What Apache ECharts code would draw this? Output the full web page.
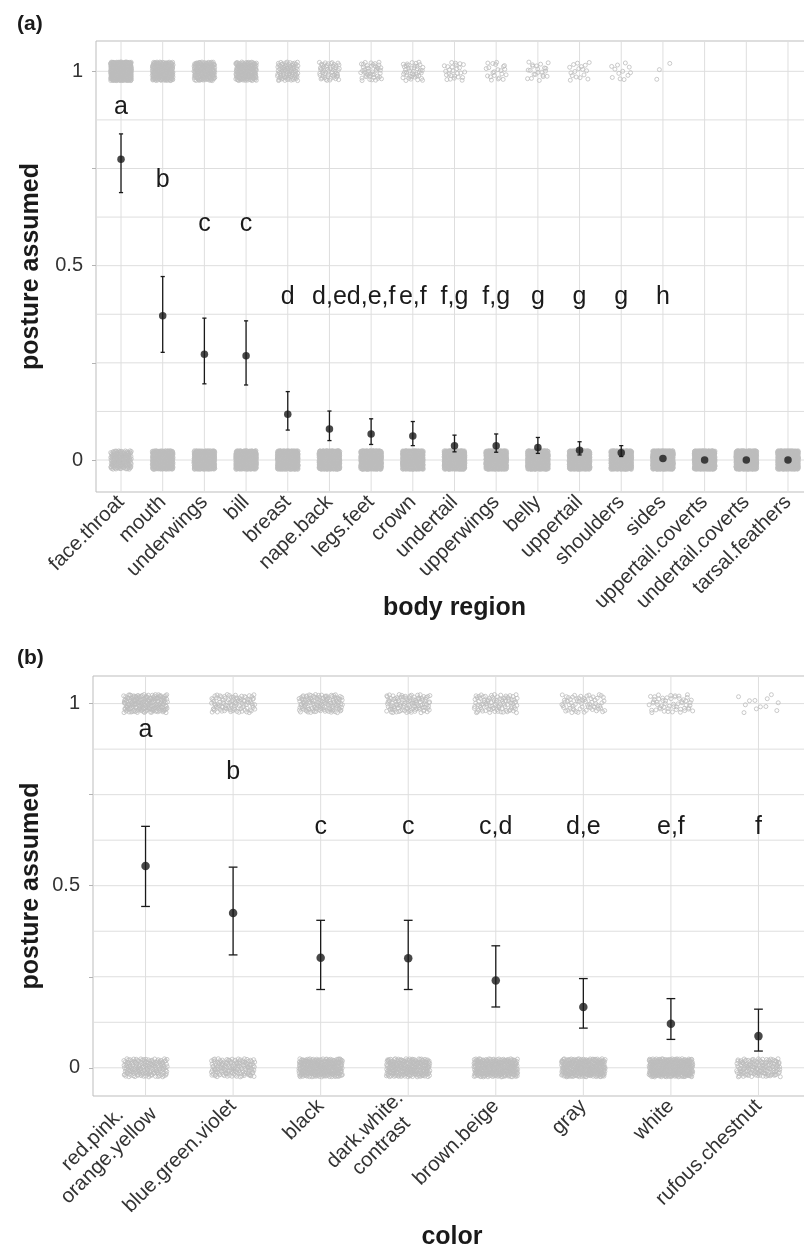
<!DOCTYPE html>
<html>
<head>
<meta charset="utf-8">
<script src="https://cdn.jsdelivr.net/npm/echarts@6/dist/echarts.min.js"></script>
<style>
html,body{margin:0;padding:0;background:#ffffff;}
#chart{width:804px;height:1245px;}
</style>
</head>
<body>
<div id="chart"></div>
<script>
// ---------- Panel (a): body region ----------
const regionNames = ['face.throat','mouth','underwings','bill','breast','nape.back','legs.feet','crown','undertail','upperwings','belly','uppertail','shoulders','sides','uppertail.coverts','undertail.coverts','tarsal.feathers'];
const regionMean  = [0.774,0.371,0.272,0.268,0.118,0.080,0.067,0.062,0.037,0.037,0.032,0.025,0.019,0.004,0.000,0.000,0.000];
const regionLower = [0.688,0.277,0.196,0.193,0.077,0.050,0.040,0.037,0.021,0.020,0.017,0.013,0.009,0.004,0.000,0.000,0.000];
const regionUpper = [0.839,0.472,0.365,0.358,0.176,0.126,0.106,0.099,0.064,0.067,0.058,0.047,0.037,0.004,0.000,0.000,0.000];
const regionLetters = ['a','b','c','c','d','d,e','d,e,f','e,f','f,g','f,g','g','g','g','h','','',''];
const regionLetterY = [0.908,0.720,0.608,0.608,0.420,0.420,0.420,0.420,0.420,0.420,0.420,0.420,0.420,0.420,0,0,0];
// estimated number of observations at 1 and at 0 (jittered raw data)
const regionOnes  = [540,260,190,188,85,55,45,42,26,22,22,17,12,3,0,0,0];
const regionZeros = [160,440,510,512,615,645,655,658,674,678,678,683,688,697,700,700,700];

// ---------- Panel (b): color ----------
const colorNames = ['red.pink.\norange.yellow','blue.green.violet','black','dark.white.\ncontrast','brown.beige','gray','white','rufous.chestnut'];
const colorMean  = [0.554,0.425,0.302,0.301,0.240,0.167,0.121,0.087];
const colorLower = [0.443,0.310,0.215,0.215,0.167,0.109,0.078,0.046];
const colorUpper = [0.663,0.551,0.405,0.405,0.335,0.245,0.190,0.161];
const colorLetters = ['a','b','c','c','c,d','d,e','e,f','f'];
const colorLetterY = [0.928,0.812,0.661,0.661,0.661,0.661,0.661,0.661];
const colorOnes  = [190,100,130,110,95,65,55,12];
const colorZeros = [170,150,300,250,300,320,360,150];

// ---------- axis ticks / gridlines ----------
const yGridValues  = [0,0.125,0.25,0.375,0.5,0.625,0.75,0.875,1];
const yTickValues  = [0,0.25,0.5,0.75,1];
const yLabelValues = [0,0.5,1];

const FONT = 'Liberation Sans, Arial, Helvetica, sans-serif';
const GRID_COLOR = '#dedede';
const PT_COLOR = '#bdbdbd';
const INK = '#1a1a1a';

function halton(i, b) { let f = 1, r = 0; while (i > 0) { f /= b; r += f * (i % b); i = Math.floor(i / b); } return r; }

// position_jitter-like spread (deterministic) around each category / outcome
function jitterCloud(ones, zeros, jw, jh) {
  const pts = [];
  ones.forEach((n, k) => { for (let j = 0; j < n; j++) { const idx = 1 + j + k * 997 + 5000; pts.push([k + 1 + (halton(idx, 2) - 0.5) * 2 * jw, 1 + (halton(idx, 3) - 0.5) * 2 * jh]); } });
  zeros.forEach((n, k) => { for (let j = 0; j < n; j++) { const idx = 1 + j + k * 1013 + 20000; pts.push([k + 1 + (halton(idx, 2) - 0.5) * 2 * jw, 0 + (halton(idx, 3) - 0.5) * 2 * jh]); } });
  return pts;
}

function gridLineSeries(gi, yVals, nCat) {
  const data = yVals.map(v => [1, v, 0]).concat(Array.from({length: nCat}, (_, i) => [i + 1, 0, 1]));
  return {
    type: 'custom', xAxisIndex: gi, yAxisIndex: gi, silent: true, z: 0, animation: false,
    data: data,
    renderItem: function (params, api) {
      const cs = params.coordSys;
      if (api.value(2) === 0) {
        const y = api.coord([1, api.value(1)])[1];
        return {type: 'line', shape: {x1: cs.x, y1: y, x2: cs.x + cs.width, y2: y}, style: {stroke: GRID_COLOR, lineWidth: 1}};
      }
      const x = api.coord([api.value(0), 0])[0];
      return {type: 'line', shape: {x1: x, y1: cs.y, x2: x, y2: cs.y + cs.height}, style: {stroke: GRID_COLOR, lineWidth: 1}};
    }
  };
}

function errorBarSeries(gi, lower, upper) {
  return {
    type: 'custom', xAxisIndex: gi, yAxisIndex: gi, silent: true, z: 3, animation: false,
    data: lower.map((lo, i) => [i + 1, lo, upper[i]]),
    encode: {x: 0, y: [1, 2]},
    renderItem: function (params, api) {
      const x = api.value(0), lo = api.value(1), hi = api.value(2);
      if (hi - lo < 1e-9) return null;
      const pHi = api.coord([x, hi]), pLo = api.coord([x, lo]);
      const hw = api.size([0.05, 0])[0];
      const st = {stroke: INK, lineWidth: 1.3};
      return {type: 'group', children: [
        {type: 'line', shape: {x1: pHi[0], y1: pHi[1], x2: pLo[0], y2: pLo[1]}, style: st},
        {type: 'line', shape: {x1: pHi[0] - hw, y1: pHi[1], x2: pHi[0] + hw, y2: pHi[1]}, style: st},
        {type: 'line', shape: {x1: pLo[0] - hw, y1: pLo[1], x2: pLo[0] + hw, y2: pLo[1]}, style: st}
      ]};
    }
  };
}

function letterSeries(gi, letters, ys, size) {
  return {
    type: 'custom', xAxisIndex: gi, yAxisIndex: gi, silent: true, z: 5, animation: false,
    data: letters.map((l, i) => [i + 1, ys[i]]),
    renderItem: function (params, api) {
      const t = letters[params.dataIndex];
      if (!t) return null;
      const p = api.coord([api.value(0), api.value(1)]);
      return {type: 'text', x: p[0], y: p[1], style: {text: t, fill: INK, font: size + 'px ' + FONT, align: 'center', verticalAlign: 'middle'}};
    }
  };
}

function cloudSeries(gi, pts) {
  return {
    type: 'scatter', xAxisIndex: gi, yAxisIndex: gi, silent: true, z: 1, animation: false,
    symbol: 'circle', symbolSize: 4,
    itemStyle: {color: 'rgba(0,0,0,0)', borderColor: PT_COLOR, borderWidth: 1},
    data: pts
  };
}

function meanSeries(gi, means, size) {
  return {
    type: 'scatter', xAxisIndex: gi, yAxisIndex: gi, silent: true, z: 4, animation: false,
    symbol: 'circle', symbolSize: size, itemStyle: {color: INK},
    data: means.map((m, i) => [i + 1, m])
  };
}

const catA = regionNames.map((_, i) => i + 1);
const catB = colorNames.map((_, i) => i + 1);

function yAxis(gi, min, max, gap) {
  return {
    gridIndex: gi, type: 'value', min: min, max: max,
    axisLine: {show: false}, splitLine: {show: false},
    axisTick: {show: true, customValues: yTickValues, length: 4, lineStyle: {color: '#b3b3b3', width: 1}},
    axisLabel: {customValues: yLabelValues, formatter: v => String(v), margin: 13, fontSize: 20, color: '#333333', fontFamily: FONT},
    name: 'posture assumed', nameLocation: 'middle', nameGap: gap, nameRotate: 90, nameMoveOverlap: false,
    nameTextStyle: {fontSize: 25, fontWeight: 'bold', color: INK, fontFamily: FONT}
  };
}

const LABEL_SIZE = 20.5;
const chart = echarts.init(document.getElementById('chart'), null, {renderer: 'canvas'});
chart.setOption({
  animation: false,
  backgroundColor: '#ffffff',
  title: [
    {text: '(a)', left: 12, top: 9, textStyle: {fontSize: 21, fontWeight: 'bold', color: INK, fontFamily: FONT}},
    {text: '(b)', left: 12, top: 643, textStyle: {fontSize: 21, fontWeight: 'bold', color: INK, fontFamily: FONT}}
  ],
  grid: [
    {left: 96, top: 41, width: 717, height: 451, show: true, borderColor: '#bdbdbd', borderWidth: 1, backgroundColor: 'transparent', containLabel: false, outerBoundsMode: 'none'},
    {left: 93, top: 676, width: 718, height: 420, show: true, borderColor: '#bdbdbd', borderWidth: 1, backgroundColor: 'transparent', containLabel: false, outerBoundsMode: 'none'}
  ],
  xAxis: [
    {
      gridIndex: 0, type: 'value', min: 0.4, max: regionNames.length + 0.6,
      axisLine: {show: false}, splitLine: {show: false},
      axisTick: {show: true, customValues: catA, length: 4, lineStyle: {color: '#b3b3b3', width: 1}},
      axisLabel: {customValues: catA, formatter: v => regionNames[Math.round(v) - 1], rotate: 45, margin: 7, fontSize: LABEL_SIZE, color: '#333333', fontFamily: FONT},
      name: 'body region', nameLocation: 'middle', nameGap: 104, nameMoveOverlap: false,
      nameTextStyle: {fontSize: 25, fontWeight: 'bold', color: INK, fontFamily: FONT}
    },
    {
      gridIndex: 1, type: 'value', min: 0.4, max: colorNames.length + 0.6,
      axisLine: {show: false}, splitLine: {show: false},
      axisTick: {show: true, customValues: catB, length: 4, lineStyle: {color: '#b3b3b3', width: 1}},
      axisLabel: {
        customValues: catB, rotate: 45, margin: 7, color: '#333333', fontSize: LABEL_SIZE, fontFamily: FONT,
        formatter: v => colorNames[Math.round(v) - 1].split('\n').map(s => '{c|' + s + '}').join('\n'),
        rich: {c: {align: 'center', fontSize: LABEL_SIZE, color: '#333333', fontFamily: FONT, lineHeight: 23}}
      },
      name: 'color', nameLocation: 'middle', nameGap: 129, nameMoveOverlap: false,
      nameTextStyle: {fontSize: 25, fontWeight: 'bold', color: INK, fontFamily: FONT}
    }
  ],
  yAxis: [
    yAxis(0, -0.0823, 1.078, 52),
    yAxis(1, -0.0774, 1.0758, 49)
  ],
  series: [
    gridLineSeries(0, yGridValues, regionNames.length),
    gridLineSeries(1, yGridValues, colorNames.length),
    cloudSeries(0, jitterCloud(regionOnes, regionZeros, 0.25, 0.024)),
    cloudSeries(1, jitterCloud(colorOnes, colorZeros, 0.25, 0.025)),
    errorBarSeries(0, regionLower, regionUpper),
    errorBarSeries(1, colorLower, colorUpper),
    meanSeries(0, regionMean, 7.5),
    meanSeries(1, colorMean, 8.5),
    letterSeries(0, regionLetters, regionLetterY, 25),
    letterSeries(1, colorLetters, colorLetterY, 25)
  ]
});
</script>
</body>
</html>
